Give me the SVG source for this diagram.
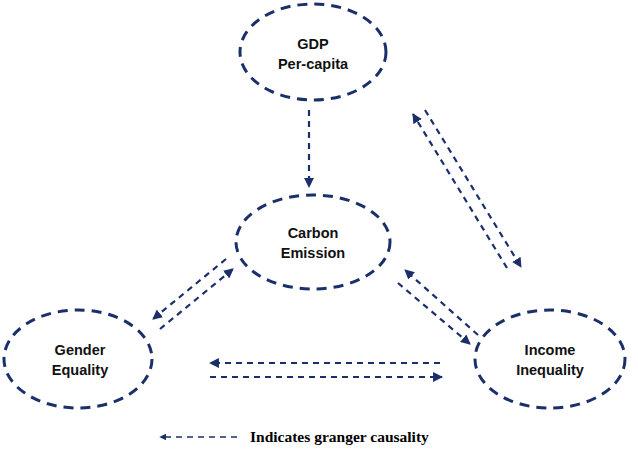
<svg xmlns="http://www.w3.org/2000/svg" width="638" height="474" viewBox="0 0 638 474">
<style>
.node{fill:none;stroke:#1b2f6b;stroke-width:3;stroke-dasharray:10 7}
.lbl{font-family:"Liberation Sans",Arial,sans-serif;font-weight:bold;font-size:14.5px;fill:#111;text-anchor:middle}
.c{fill:none;stroke:#1b2f6b;stroke-width:2.2;stroke-dasharray:6 5;marker-end:url(#ah)}
.leg{font-family:"Liberation Serif","Times New Roman",serif;font-weight:bold;font-size:15.5px;fill:#000}
</style>
<defs>
<marker id="ah" viewBox="0 0 10 10" refX="9" refY="5" markerWidth="4.5" markerHeight="4.5" orient="auto" markerUnits="strokeWidth">
<path d="M0,0 L10,5 L0,10 z" fill="#1b2f6b"/>
</marker>
</defs>
<rect width="638" height="474" fill="#fff"/>
<g id="gdp">
<ellipse class="node" cx="313" cy="52" rx="73" ry="48"/>
<text class="lbl" x="313" y="49">GDP</text>
<text class="lbl" x="313" y="69">Per-capita</text>
</g>
<g id="carbon">
<ellipse class="node" cx="313" cy="242" rx="77" ry="47"/>
<text class="lbl" x="313" y="238">Carbon</text>
<text class="lbl" x="313" y="258">Emission</text>
</g>
<g id="gender">
<ellipse class="node" cx="78" cy="359" rx="74" ry="49"/>
<text class="lbl" x="80" y="355">Gender</text>
<text class="lbl" x="80" y="375">Equality</text>
</g>
<g id="income">
<ellipse class="node" cx="550" cy="359" rx="75" ry="49"/>
<text class="lbl" x="550" y="355">Income</text>
<text class="lbl" x="550" y="375">Inequality</text>
</g>
<g id="connectors">
<line class="c" x1="309" y1="110" x2="309" y2="187"/>
<line class="c" x1="507" y1="268" x2="413" y2="114"/>
<line class="c" x1="425" y1="110" x2="521" y2="267"/>
<line class="c" x1="226" y1="259" x2="153" y2="319"/>
<line class="c" x1="160" y1="329" x2="233" y2="269"/>
<line class="c" x1="478" y1="335" x2="405" y2="270"/>
<line class="c" x1="398" y1="283" x2="470" y2="344"/>
<line class="c" x1="440" y1="363" x2="210" y2="363"/>
<line class="c" x1="210" y1="377" x2="442" y2="377"/>
</g>
<g id="legend">
<line x1="237" y1="437" x2="160" y2="437" stroke="#1b2f6b" stroke-width="1.6" stroke-dasharray="6 5" marker-end="url(#ah)"/>
<text class="leg" x="250" y="442">Indicates granger causality</text>
</g>
</svg>
